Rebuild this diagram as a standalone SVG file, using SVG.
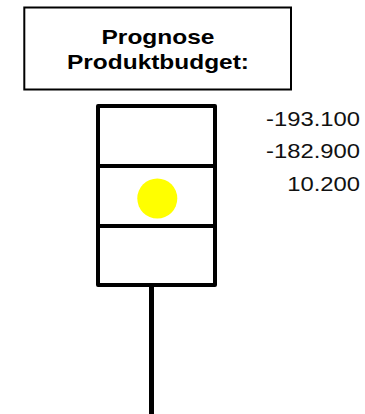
<svg xmlns="http://www.w3.org/2000/svg" width="365" height="414" viewBox="0 0 365 414">
<style>
.title{font-family:"Liberation Sans",Arial,sans-serif;font-weight:bold;font-size:21px;fill:#000;text-anchor:middle}
.num{font-family:"Liberation Sans",Arial,sans-serif;font-size:19.5px;fill:#111;text-anchor:end}
.frame{fill:#fff;stroke:#000;stroke-width:4;stroke-linejoin:round}
.bar{stroke:#000;stroke-width:4}
</style>
<rect width="365" height="414" fill="#fff"/>
<g id="title">
<rect x="24.3" y="7.5" width="266.7" height="82" fill="#fff" stroke="#000" stroke-width="2"/>
<text class="title" x="158" y="44.3" textLength="113" lengthAdjust="spacingAndGlyphs">Prognose</text>
<text class="title" x="158" y="69.3" textLength="182" lengthAdjust="spacingAndGlyphs">Produktbudget:</text>
</g>
<g id="connectors">
<line x1="151.5" y1="285" x2="151.5" y2="414" stroke="#000" stroke-width="5"/>
</g>
<g id="traffic-light">
<rect class="frame" x="98" y="106" width="117" height="179"/>
<line class="bar" x1="98" y1="166" x2="215" y2="166"/>
<line class="bar" x1="98" y1="226" x2="215" y2="226"/>
<circle cx="157.3" cy="198.5" r="20" fill="#ffff00"/>
</g>
<g id="values">
<text class="num" x="360" y="125.7" textLength="94" lengthAdjust="spacingAndGlyphs">-193.100</text>
<text class="num" x="360" y="158.3" textLength="94" lengthAdjust="spacingAndGlyphs">-182.900</text>
<text class="num" x="360" y="191" textLength="72.8" lengthAdjust="spacingAndGlyphs">10.200</text>
</g>
</svg>
